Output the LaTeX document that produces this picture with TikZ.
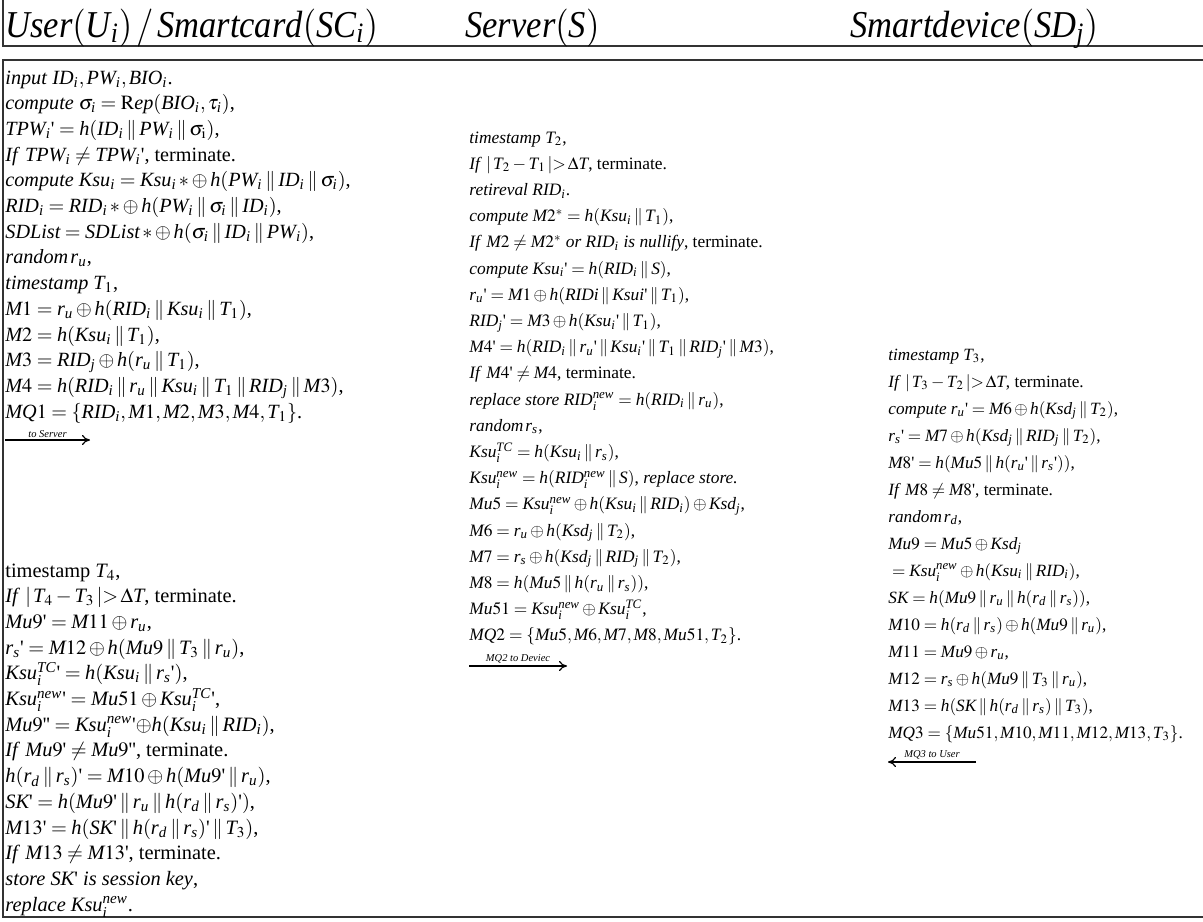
\documentclass[tikz,border=0pt]{standalone}
\usepackage{mathptmx}
\usepackage{fontspec}
\setmainfont{Liberation Serif}
\DeclareSymbolFont{txtit}{TU}{\rmdefault}{m}{it}
\newcommand\mkletter[1]{\DeclareMathSymbol{#1}{\mathalpha}{txtit}{`#1}}
\mkletter{a}\mkletter{b}\mkletter{c}\mkletter{d}\mkletter{e}\mkletter{f}\mkletter{g}
\mkletter{h}\mkletter{i}\mkletter{j}\mkletter{k}\mkletter{l}\mkletter{m}\mkletter{n}
\mkletter{o}\mkletter{p}\mkletter{q}\mkletter{r}\mkletter{s}\mkletter{t}\mkletter{u}
\mkletter{v}\mkletter{w}\mkletter{x}\mkletter{y}\mkletter{z}
\mkletter{A}\mkletter{B}\mkletter{C}\mkletter{D}\mkletter{E}\mkletter{F}\mkletter{G}
\mkletter{H}\mkletter{I}\mkletter{J}\mkletter{K}\mkletter{L}\mkletter{M}\mkletter{N}
\mkletter{O}\mkletter{P}\mkletter{Q}\mkletter{R}\mkletter{S}\mkletter{T}\mkletter{U}
\mkletter{V}\mkletter{W}\mkletter{X}\mkletter{Y}\mkletter{Z}
\usetikzlibrary{arrows.meta}
\newcommand\pq{\mbox{\textquotesingle}}
\newcommand\cc{\mathbin{\|}}
\tikzset{
  ln/.style={anchor=base west, inner sep=0pt},
  ufont/.style={font=\fontsize{10.1}{12}\selectfont},
  bfont/.style={font=\fontsize{10.2}{12}\selectfont},
  sfont/.style={font=\fontsize{8.7}{10}\selectfont},
  dfont/.style={font=\fontsize{8.6}{10}\selectfont},
  hfont/.style={font=\fontsize{17.25}{20}\selectfont, yscale=1.1},
  frame/.style={draw=black!80, line width=1pt},
  msg/.style={draw=black, line width=0.6pt},
  msglabel/.style={font=\fontsize{5.25}{6}\selectfont\itshape, inner sep=1pt, above}
}
\begin{document}
\begin{tikzpicture}[x=0.5pt,y=-0.5pt]
\useasboundingbox (0,0) rectangle (1203,921);
\clip (0,0) rectangle (1203,921);
\fill[white] (0,0) rectangle (1203,921);
% header frame
\draw[frame] (2.5,-5) -- (2.5,46) -- (1210,46);
\node[ln,hfont] (hU) at (5,37) {$User(U_i)\,/\,Smartcard(SC_i)$};
\node[ln,hfont] (hS) at (465,37) {$Server(S)$};
\node[ln,hfont] (hD) at (850,37) {$Smartdevice(SD_j)$};
% body frame
\draw[frame] (1210,60) -- (2.5,60) -- (2.5,917) -- (1210,917);
% user top block
\foreach \t [count=\k] in {
 {\textit{input} $ID_i, PW_i, BIO_i$.},
 {\textit{compute} $\sigma_i = \mathrm{R}ep(BIO_i,\tau_i)$,},
 {$TPW_i\pq = h(ID_i \cc PW_i \cc \sigma_{\mathrm{i}})$,},
 {\textit{If} $TPW_i \neq TPW_i\pq$, terminate.},
 {\textit{compute} $Ksu_i = Ksu_i\,{*}\oplus h(PW_i\cc ID_i\cc \sigma_i)$,},
 {$RID_i = RID_i\,{*}\oplus h(PW_i\cc \sigma_i\cc ID_i)$,},
 {$SDList = SDList\,{*}\oplus h(\sigma_i\cc ID_i\cc PW_i)$,},
 {\textit{random}$\,r_u$,},
 {\textit{timestamp} $T_1$,},
 {$M1 = r_u \oplus h(RID_i\cc Ksu_i\cc T_1)$,},
 {$M2 = h(Ksu_i\cc T_1)$,},
 {$M3 = RID_j \oplus h(r_u\cc T_1)$,},
 {$M4 = h(RID_i\cc r_u\cc Ksu_i\cc T_1\cc RID_j\cc M3)$,},
 {$MQ1 = \{RID_i, M1, M2, M3, M4, T_1\}$.}}
 {\node[ln,ufont] (u\k) at (5,{84+25.7*(\k-1)}) {\t};}
\coordinate (m1s) at (5,440);
\coordinate (m1e) at (90,440);
\draw[msg,-{To[length=4pt,width=5pt]}] (m1s) -- (m1e) node[msglabel,midway] (m1l) {to Server};
% user bottom block
\foreach \t [count=\k] in {
 {timestamp $T_4$,},
 {\textit{If} $|\,T_4-T_3\,|{>}\,\Delta T$, terminate.},
 {$Mu9\pq = M11 \oplus r_u$,},
 {$r_s\pq = M12 \oplus h(Mu9\cc T_3\cc r_u)$,},
 {$Ksu_i^{TC}\pq = h(Ksu_i\cc r_s\pq)$,},
 {$Ksu_i^{new}\pq = Mu51 \oplus Ksu_i^{TC}\pq$,},
 {$Mu9\pq\pq = Ksu_i^{new}\pq{\oplus}h(Ksu_i\cc RID_i)$,},
 {\textit{If} $Mu9\pq \neq Mu9\pq\pq$, terminate.},
 {$h(r_d\cc r_s)\pq = M10\oplus h(Mu9\pq\cc r_u)$,},
 {$SK\pq = h(Mu9\pq\cc r_u\cc h(r_d\cc r_s)\pq)$,},
 {$M13\pq = h(SK\pq\cc h(r_d\cc r_s)\pq\cc T_3)$,},
 {\textit{If} $M13\neq M13\pq$, terminate.},
 {\textit{store} $SK\pq$ \textit{is session key},},
 {\textit{replace} $Ksu_i^{new}$.}}
 {\node[ln,bfont] (v\k) at (5,{577+25.7*(\k-1)}) {\t};}
% server block
\foreach \t [count=\k] in {
 {\textit{timestamp} $T_2$,},
 {\textit{If} $|\,T_2-T_1\,|{>}\,\Delta T$, terminate.},
 {\textit{retireval} $RID_i$.},
 {\textit{compute} $M2^{*} = h(Ksu_i\cc T_1)$,},
 {\textit{If} $M2\neq M2^{*}$ \textit{or} $RID_i$ \textit{is nullify}, terminate.},
 {\textit{compute} $Ksu_i\pq = h(RID_i\cc S)$,},
 {$r_u\pq = M1\oplus h(RIDi\cc Ksui\pq\cc T_1)$,},
 {$RID_j\pq = M3\oplus h(Ksu_i\pq\cc T_1)$,},
 {$M4\pq = h(RID_i\cc r_u\pq\cc Ksu_i\pq\cc T_1\cc RID_j\pq\cc M3)$,},
 {\textit{If} $M4\pq\neq M4$, terminate.},
 {\textit{replace store} $RID_i^{new} = h(RID_i\cc r_u)$,},
 {\textit{random}$\,r_s$,},
 {$Ksu_i^{TC} = h(Ksu_i\cc r_s)$,},
 {$Ksu_i^{new} = h(RID_i^{new}\cc S)$, \textit{replace store.}},
 {$Mu5 = Ksu_i^{new}\oplus h(Ksu_i\cc RID_i)\oplus Ksd_j$,},
 {$M6 = r_u\oplus h(Ksd_j\cc T_2)$,},
 {$M7 = r_s\oplus h(Ksd_j\cc RID_j\cc T_2)$,},
 {$M8 = h(Mu5\cc h(r_u\cc r_s))$,},
 {$Mu51 = Ksu_i^{new}\oplus Ksu_i^{TC}$,},
 {$MQ2 = \{Mu5, M6, M7, M8, Mu51, T_2\}$.}}
 {\node[ln,sfont] (s\k) at (469,{143+26.2*(\k-1)}) {\t};}
\coordinate (m2s) at (469,666);
\coordinate (m2e) at (567,666);
\draw[msg,-{To[length=4pt,width=5pt]}] (m2s) -- (m2e) node[msglabel,midway] (m2l) {MQ2 to Deviec};
% device block
\foreach \t [count=\k] in {
 {\textit{timestamp} $T_3$,},
 {\textit{If} $|\,T_3-T_2\,|{>}\,\Delta T$, terminate.},
 {\textit{compute} $r_u\pq = M6\oplus h(Ksd_j\cc T_2)$,},
 {$r_s\pq = M7\oplus h(Ksd_j\cc RID_j\cc T_2)$,},
 {$M8\pq = h(Mu5\cc h(r_u\pq\cc r_s\pq))$,},
 {\textit{If} $M8\neq M8\pq$, terminate.},
 {\textit{random}$\,r_d$,},
 {$Mu9 = Mu5\oplus Ksd_j$},
 {${}= Ksu_i^{new}\oplus h(Ksu_i\cc RID_i)$,},
 {$SK = h(Mu9\cc r_u\cc h(r_d\cc r_s))$,},
 {$M10 = h(r_d\cc r_s)\oplus h(Mu9\cc r_u)$,},
 {$M11 = Mu9\oplus r_u$,},
 {$M12 = r_s\oplus h(Mu9\cc T_3\cc r_u)$,},
 {$M13 = h(SK\cc h(r_d\cc r_s)\cc T_3)$,},
 {$MQ3 = \{Mu51, M10, M11, M12, M13, T_3\}$.}}
 {\node[ln,dfont] (d\k) at (888,{360+27*(\k-1)}) {\t};}
\coordinate (m3s) at (976,762);
\coordinate (m3e) at (888,762);
\draw[msg,-{To[length=4pt,width=5pt]}] (m3s) -- (m3e) node[msglabel,midway] (m3l) {MQ3 to User};
\end{tikzpicture}
\end{document}
